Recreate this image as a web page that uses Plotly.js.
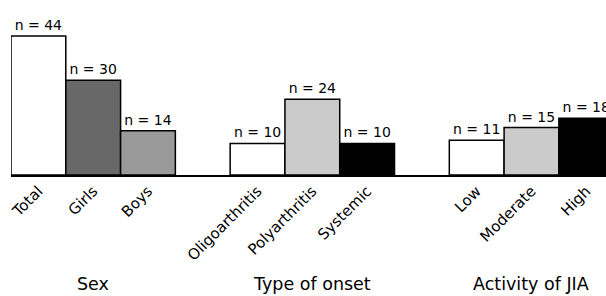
<!DOCTYPE html>
<html>
<head>
<meta charset="utf-8">
<script src="https://cdn.plot.ly/plotly-3.0.1.min.js"></script>
<style>html,body{margin:0;padding:0;background:#fff;}#chart{width:606px;height:296px;}</style>
</head>
<body>
<div id="chart"></div>
<script>
// ---- data ----
const groupNames = ["Sex", "Type of onset", "Activity of JIA"];
const sexCategories = ["Total", "Girls", "Boys"];
const sexValues = [44, 30, 14];
const onsetCategories = ["Oligoarthritis", "Polyarthritis", "Systemic"];
const onsetValues = [10, 24, 10];
const activityCategories = ["Low", "Moderate", "High"];
const activityValues = [11, 15, 18];

// ---- styles ----
const sexColors = ["#ffffff", "#686868", "#9a9a9a"];
const onsetColors = ["#ffffff", "#cbcbcb", "#000000"];
const activityColors = ["#ffffff", "#cbcbcb", "#000000"];

const groups = [
  {cats: sexCategories, vals: sexValues, cols: sexColors},
  {cats: onsetCategories, vals: onsetValues, cols: onsetColors},
  {cats: activityCategories, vals: activityValues, cols: activityColors}
];

const FONT = "DejaVu Sans, sans-serif";
let xs = [], ys = [], labels = [], colors = [], annotations = [];
let pos = 0;
groups.forEach((g, gi) => {
  const start = pos;
  g.cats.forEach((c, i) => {
    xs.push(pos); ys.push(g.vals[i]); labels.push(c); colors.push(g.cols[i]);
    pos += 1;
  });
  annotations.push({
    x: (start + pos - 1) / 2, xref: "x", y: -0.625, yref: "paper",
    text: groupNames[gi], showarrow: false, yanchor: "middle", xanchor: "center",
    font: {family: FONT, size: 17.5, color: "#000"}
  });
  pos += 1; // gap between groups
});

const trace = {
  type: "bar",
  x: xs, y: ys,
  width: 1,
  marker: {color: colors, line: {color: "#000", width: 1.5}},
  text: ys.map(v => "n = " + v),
  textposition: "outside",
  constraintext: "none",
  textfont: {family: FONT, size: 14, color: "#000"},
  hoverinfo: "none"
};

const layout = {
  width: 606, height: 296,
  margin: {l: 11, r: 0, t: 0, b: 121},
  paper_bgcolor: "#fff", plot_bgcolor: "#fff",
  showlegend: false,
  bargap: 0,
  xaxis: {
    range: [-0.5, 10.36],
    tickvals: xs, ticktext: labels, tickangle: -45,
    tickfont: {family: FONT, size: 15, color: "#000"},
    showline: true, linecolor: "#000", linewidth: 1.5,
    ticks: "", showgrid: false, zeroline: false
  },
  yaxis: {visible: false, range: [0, 55.4], showgrid: false, zeroline: false},
  annotations: annotations
};

Plotly.newPlot("chart", [trace], layout, {staticPlot: true, displayModeBar: false});
</script>
</body>
</html>
